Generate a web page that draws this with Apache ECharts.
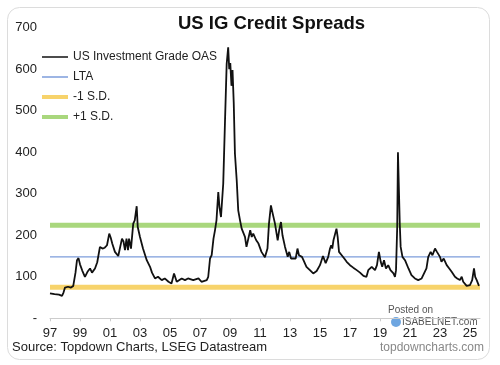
<!DOCTYPE html>
<html>
<head>
<meta charset="utf-8">
<script src="https://cdn.jsdelivr.net/npm/echarts@6/dist/echarts.min.js"></script>
<style>html,body{margin:0;padding:0;background:#fff;}#c{width:500px;height:365px;}</style>
</head>
<body>
<div id="c"></div>
<script>
// Decimal years and OAS (bp)
var years = [1997.0,1997.3,1997.6,1997.8,1997.9,1998.0,1998.2,1998.4,1998.55,1998.7,1998.8,1998.9,1999.0,1999.15,1999.33,1999.5,1999.67,1999.8,2000.0,2000.15,2000.33,2000.5,2000.65,2000.8,2000.95,2001.05,2001.15,2001.33,2001.55,2001.65,2001.8,2001.9,2002.0,2002.1,2002.2,2002.27,2002.4,2002.55,2002.65,2002.78,2002.85,2003.0,2003.2,2003.45,2003.67,2003.8,2004.0,2004.2,2004.45,2004.65,2004.9,2005.1,2005.27,2005.45,2005.78,2006.0,2006.2,2006.55,2006.9,2007.1,2007.45,2007.55,2007.67,2007.78,2007.9,2008.0,2008.1,2008.22,2008.3,2008.4,2008.55,2008.67,2008.78,2008.88,2008.95,2009.02,2009.1,2009.17,2009.25,2009.33,2009.45,2009.55,2009.67,2009.78,2010.0,2010.1,2010.2,2010.35,2010.45,2010.55,2010.75,2010.9,2011.1,2011.33,2011.5,2011.6,2011.73,2011.8,2011.9,2012.0,2012.18,2012.28,2012.4,2012.5,2012.67,2012.85,2012.95,2013.07,2013.2,2013.38,2013.5,2013.6,2013.8,2013.9,2014.1,2014.33,2014.55,2014.78,2015.0,2015.2,2015.38,2015.55,2015.67,2015.75,2015.82,2015.9,2016.1,2016.18,2016.27,2016.45,2016.62,2016.78,2017.0,2017.22,2017.45,2017.67,2017.9,2018.1,2018.22,2018.33,2018.45,2018.67,2018.8,2018.93,2019.05,2019.15,2019.27,2019.4,2019.55,2019.7,2019.9,2020.0,2020.07,2020.15,2020.2,2020.27,2020.32,2020.38,2020.5,2020.67,2020.9,2021.1,2021.33,2021.55,2021.78,2021.9,2022.1,2022.22,2022.38,2022.5,2022.67,2022.8,2023.0,2023.1,2023.25,2023.45,2023.62,2023.78,2024.0,2024.15,2024.33,2024.45,2024.55,2024.78,2025.0,2025.15,2025.27,2025.35,2025.45,2025.6];
var oas = [60,58,57,54,62,74,76,74,78,110,140,145,130,115,100,112,120,110,120,135,172,168,170,176,204,194,180,160,150,152,192,185,164,192,164,192,168,228,236,270,220,196,168,140,124,110,96,100,92,96,88,84,108,88,96,92,96,92,96,88,92,100,144,152,192,212,236,304,268,244,324,477,613,653,600,615,560,598,520,397,332,260,236,216,196,172,172,212,196,204,188,180,160,147,168,228,272,260,264,228,188,212,232,200,172,148,160,144,148,144,168,152,148,140,124,116,108,114,128,150,133,148,168,176,168,188,216,196,160,152,144,136,128,122,116,110,102,100,116,112,124,116,128,160,136,124,140,120,128,116,108,100,116,220,400,300,228,172,148,140,120,104,96,92,96,100,120,148,160,152,168,160,148,136,144,128,120,112,100,96,92,100,88,78,80,92,120,100,92,78];
var lta = 148;
var minusSD = 75;
var plusSD = 224;
var xStart = 1997, xEnd = 2025.67;

var oasData = years.map(function(y,i){return [y, oas[i]];});
function flat(v){return [[xStart,v],[xEnd,v]];}

var thinIcon = 'path://M0,0L26,0L26,1.5L0,1.5Z';
var thickIcon = 'path://M0,0L26,0L26,4L0,4Z';

var chart = echarts.init(document.getElementById('c'), null, {renderer:'canvas'});
var font = 'Liberation Sans, Arial, sans-serif';
chart.setOption({
  animation:false,
  backgroundColor:'#fff',
  title:{text:'US IG Credit Spreads', left:173, top:9,
    textStyle:{fontFamily:font,fontSize:18.5,fontWeight:'bold',color:'#111'}},
  grid:{left:50,right:20,top:27.7,bottom:46.7},
  legend:{orient:'vertical', left:42, top:51, padding:0, itemGap:8, itemWidth:26, itemHeight:14,
    symbolKeepAspect:true,
    textStyle:{fontFamily:font,fontSize:12,color:'#222'},
    data:[{name:'US Investment Grade OAS',icon:thinIcon},{name:'LTA',icon:thinIcon},
          {name:'-1 S.D.',icon:thickIcon},{name:'+1 S.D.',icon:thickIcon}]},
  xAxis:{type:'value', min:xStart, max:xEnd, interval:2,
    axisLine:{lineStyle:{color:'#ccc'}},
    axisTick:{show:true,length:3,lineStyle:{color:'#ccc'}},
    splitLine:{show:false},
    axisLabel:{fontFamily:font,fontSize:13,color:'#222',margin:9,
      showMaxLabel:false,
      formatter:function(v){var r=Math.round(v); if(Math.abs(v-r)>0.01) return ''; return String(r%100).padStart(2,'0');}}},
  yAxis:{type:'value', min:0, max:700, interval:100,
    axisLine:{show:false}, axisTick:{show:false}, splitLine:{show:false},
    axisLabel:{fontFamily:font,fontSize:13,color:'#222',margin:13,
      formatter:function(v){return v===0?'-':String(v);}}},
  series:[
    {name:'-1 S.D.', type:'line', data:flat(minusSD), symbol:'none', silent:true, z:1,
      lineStyle:{color:'#f7d36b',width:5}, itemStyle:{color:'#f7d36b'}},
    {name:'+1 S.D.', type:'line', data:flat(plusSD), symbol:'none', silent:true, z:1,
      lineStyle:{color:'#a9d77d',width:5}, itemStyle:{color:'#a9d77d'}},
    {name:'LTA', type:'line', data:flat(lta), symbol:'none', silent:true, z:2,
      lineStyle:{color:'#7c9ddb',width:1.3}, itemStyle:{color:'#7c9ddb'}},
    {name:'US Investment Grade OAS', type:'line', data:oasData, symbol:'none', z:3,
      lineStyle:{color:'#111',width:1.8}, itemStyle:{color:'#111'}}
  ],
  graphic:[
    {type:'rect', shape:{x:7.5,y:7.5,width:482,height:352,r:12}, style:{fill:'none',stroke:'#dcdcdc',lineWidth:1}, z:-10},
    {type:'text', left:12, top:341, style:{text:'Source: Topdown Charts, LSEG Datastream', font:'13px '+font, fill:'#222'}},
    {type:'text', right:16, top:342, style:{text:'topdowncharts.com', font:'12px '+font, fill:'#888'}},
    {type:'text', left:388, top:305, style:{text:'Posted on', font:'10px '+font, fill:'#555'}},
    {type:'text', left:402, top:317, style:{text:'ISABELNET.com', font:'10px '+font, fill:'#555'}},
    {type:'circle', shape:{cx:396,cy:322,r:5}, style:{fill:'#4a90d9',opacity:0.8}}
  ]
});
</script>
</body>
</html>
